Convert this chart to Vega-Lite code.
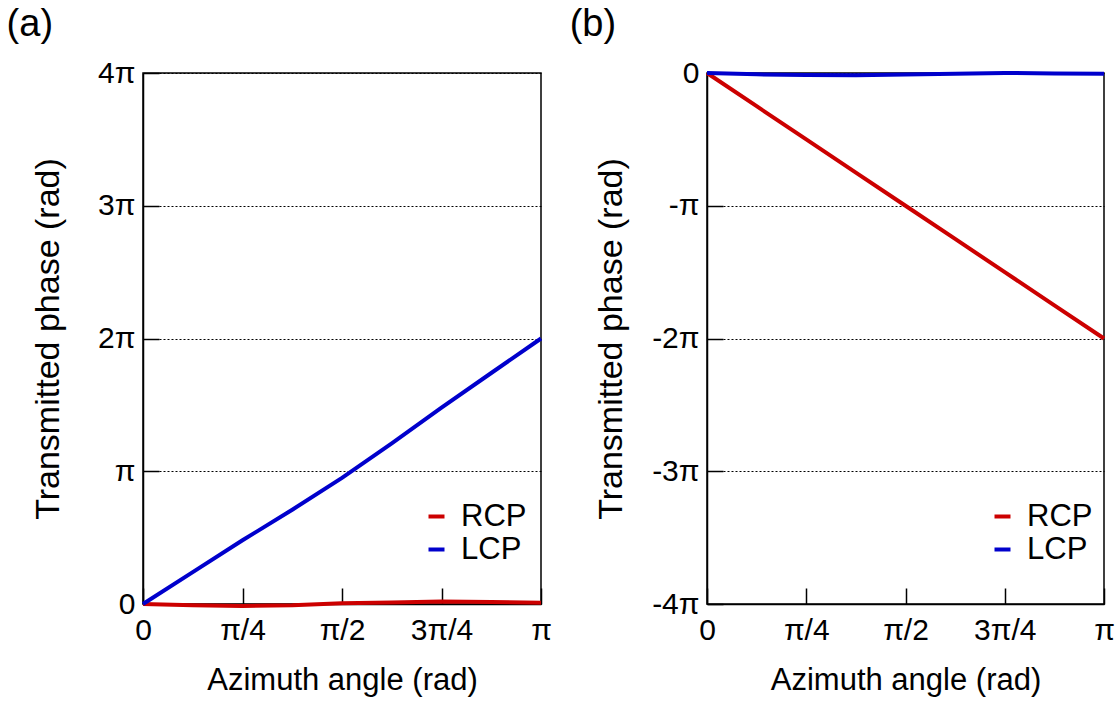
{
  "$schema": "https://vega.github.io/schema/vega-lite/v6.json",
  "padding": {"left": 5, "top": 5, "right": 5, "bottom": 5},
  "background": "white",
  "datasets": {
    "phase": [
      {"panel": "a", "pol": "RCP", "azimuth_pi": 0, "phase_pi": 0},
      {"panel": "a", "pol": "RCP", "azimuth_pi": 0.125, "phase_pi": -0.01},
      {"panel": "a", "pol": "RCP", "azimuth_pi": 0.25, "phase_pi": -0.015},
      {"panel": "a", "pol": "RCP", "azimuth_pi": 0.375, "phase_pi": -0.01},
      {"panel": "a", "pol": "RCP", "azimuth_pi": 0.5, "phase_pi": 0.005},
      {"panel": "a", "pol": "RCP", "azimuth_pi": 0.625, "phase_pi": 0.012},
      {"panel": "a", "pol": "RCP", "azimuth_pi": 0.75, "phase_pi": 0.018},
      {"panel": "a", "pol": "RCP", "azimuth_pi": 0.875, "phase_pi": 0.015},
      {"panel": "a", "pol": "RCP", "azimuth_pi": 1, "phase_pi": 0.01},
      {"panel": "a", "pol": "LCP", "azimuth_pi": 0, "phase_pi": 0},
      {"panel": "a", "pol": "LCP", "azimuth_pi": 0.125, "phase_pi": 0.24},
      {"panel": "a", "pol": "LCP", "azimuth_pi": 0.25, "phase_pi": 0.48},
      {"panel": "a", "pol": "LCP", "azimuth_pi": 0.375, "phase_pi": 0.71},
      {"panel": "a", "pol": "LCP", "azimuth_pi": 0.5, "phase_pi": 0.95},
      {"panel": "a", "pol": "LCP", "azimuth_pi": 0.625, "phase_pi": 1.21},
      {"panel": "a", "pol": "LCP", "azimuth_pi": 0.75, "phase_pi": 1.48},
      {"panel": "a", "pol": "LCP", "azimuth_pi": 0.875, "phase_pi": 1.74},
      {"panel": "a", "pol": "LCP", "azimuth_pi": 1, "phase_pi": 2.0},
      {"panel": "b", "pol": "RCP", "azimuth_pi": 0, "phase_pi": 0},
      {"panel": "b", "pol": "RCP", "azimuth_pi": 0.125, "phase_pi": -0.25},
      {"panel": "b", "pol": "RCP", "azimuth_pi": 0.25, "phase_pi": -0.5},
      {"panel": "b", "pol": "RCP", "azimuth_pi": 0.375, "phase_pi": -0.75},
      {"panel": "b", "pol": "RCP", "azimuth_pi": 0.5, "phase_pi": -1.0},
      {"panel": "b", "pol": "RCP", "azimuth_pi": 0.625, "phase_pi": -1.25},
      {"panel": "b", "pol": "RCP", "azimuth_pi": 0.75, "phase_pi": -1.5},
      {"panel": "b", "pol": "RCP", "azimuth_pi": 0.875, "phase_pi": -1.75},
      {"panel": "b", "pol": "RCP", "azimuth_pi": 1, "phase_pi": -2.0},
      {"panel": "b", "pol": "LCP", "azimuth_pi": 0, "phase_pi": 0},
      {"panel": "b", "pol": "LCP", "azimuth_pi": 0.125, "phase_pi": -0.01},
      {"panel": "b", "pol": "LCP", "azimuth_pi": 0.25, "phase_pi": -0.015},
      {"panel": "b", "pol": "LCP", "azimuth_pi": 0.375, "phase_pi": -0.017},
      {"panel": "b", "pol": "LCP", "azimuth_pi": 0.5, "phase_pi": -0.012},
      {"panel": "b", "pol": "LCP", "azimuth_pi": 0.625, "phase_pi": -0.005},
      {"panel": "b", "pol": "LCP", "azimuth_pi": 0.75, "phase_pi": 0.0},
      {"panel": "b", "pol": "LCP", "azimuth_pi": 0.875, "phase_pi": -0.003},
      {"panel": "b", "pol": "LCP", "azimuth_pi": 1, "phase_pi": -0.005}
    ]
  },
  "spacing": 15,
  "resolve": {"scale": {"color": "independent", "y": "independent"}, "legend": {"color": "independent"}},
  "hconcat": [
    {
      "width": 398,
      "height": 531,
      "title": {"text": "(a)", "anchor": "start", "frame": "bounds", "dx": -25, "offset": 14},
      "data": {"name": "phase"},
      "transform": [{"filter": "datum.panel === 'a'"}],
      "mark": {"type": "line", "strokeWidth": 4, "clip": false},
      "encoding": {
        "x": {"field": "azimuth_pi", "type": "quantitative", "scale": {"domain": [0, 1], "nice": false, "zero": false},
          "axis": {"title": "Azimuth angle (rad)", "values": [0, 0.25, 0.5, 0.75, 1],
            "labelExpr": "datum.value == 0 ? '0' : datum.value == 0.25 ? 'π/4' : datum.value == 0.5 ? 'π/2' : datum.value == 0.75 ? '3π/4' : 'π'"}},
        "y": {"field": "phase_pi", "type": "quantitative", "scale": {"domain": [0, 4], "nice": false},
          "axis": {"title": "Transmitted phase (rad)", "values": [0, 1, 2, 3, 4], "grid": true, "titlePadding": 32,
            "labelExpr": "datum.value == 0 ? '0' : datum.value == 1 ? 'π' : datum.value + 'π'"}},
        "color": {"field": "pol", "type": "nominal", "scale": {"domain": ["RCP", "LCP"], "range": ["#cc0000", "#0000cc"]},
          "legend": {"title": null, "orient": "none", "legendX": 278, "legendY": 428}},
        "order": {"field": "azimuth_pi"}
      }
    },
    {
      "width": 397,
      "height": 531,
      "title": {"text": "(b)", "anchor": "start", "frame": "bounds", "dx": -25, "offset": 14},
      "data": {"name": "phase"},
      "transform": [{"filter": "datum.panel === 'b'"}],
      "mark": {"type": "line", "strokeWidth": 4, "clip": false},
      "encoding": {
        "x": {"field": "azimuth_pi", "type": "quantitative", "scale": {"domain": [0, 1], "nice": false, "zero": false},
          "axis": {"title": "Azimuth angle (rad)", "values": [0, 0.25, 0.5, 0.75, 1],
            "labelExpr": "datum.value == 0 ? '0' : datum.value == 0.25 ? 'π/4' : datum.value == 0.5 ? 'π/2' : datum.value == 0.75 ? '3π/4' : 'π'"}},
        "y": {"field": "phase_pi", "type": "quantitative", "scale": {"domain": [-4, 0], "nice": false},
          "axis": {"title": "Transmitted phase (rad)", "values": [-4, -3, -2, -1, 0], "grid": true, "titlePadding": 23,
            "labelExpr": "datum.value == 0 ? '0' : datum.value == -1 ? '-π' : datum.value + 'π'"}},
        "color": {"field": "pol", "type": "nominal", "scale": {"domain": ["RCP", "LCP"], "range": ["#cc0000", "#0000cc"]},
          "legend": {"title": null, "orient": "none", "legendX": 280, "legendY": 428}},
        "order": {"field": "azimuth_pi"}
      }
    }
  ],
  "config": {
    "font": "Liberation Sans",
    "view": {"stroke": "black", "strokeWidth": 1.5},
    "title": {"fontSize": 38, "fontWeight": "normal", "color": "black", "font": "Liberation Sans"},
    "axis": {
      "domainColor": "black", "domainWidth": 1.5,
      "tickColor": "black", "tickWidth": 1.5, "tickSize": -16,
      "labelFontSize": 30, "labelColor": "black", "labelFont": "Liberation Sans",
      "labelOverlap": false, "labelFlush": false,
      "titleFontSize": 31, "titleFontWeight": "normal", "titleColor": "black", "titleFont": "Liberation Sans",
      "grid": false
    },
    "axisX": {"labelPadding": 27, "titlePadding": 20},
    "axisY": {"labelPadding": 24, "titleFontSize": 34,
      "gridColor": "black", "gridDash": [2, 2], "gridWidth": 1, "gridOpacity": 1},
    "legend": {
      "symbolType": "stroke", "symbolSize": 256, "symbolStrokeWidth": 4,
      "labelFontSize": 31, "labelColor": "black", "labelFont": "Liberation Sans",
      "labelOffset": 9, "rowPadding": 1
    }
  }
}
